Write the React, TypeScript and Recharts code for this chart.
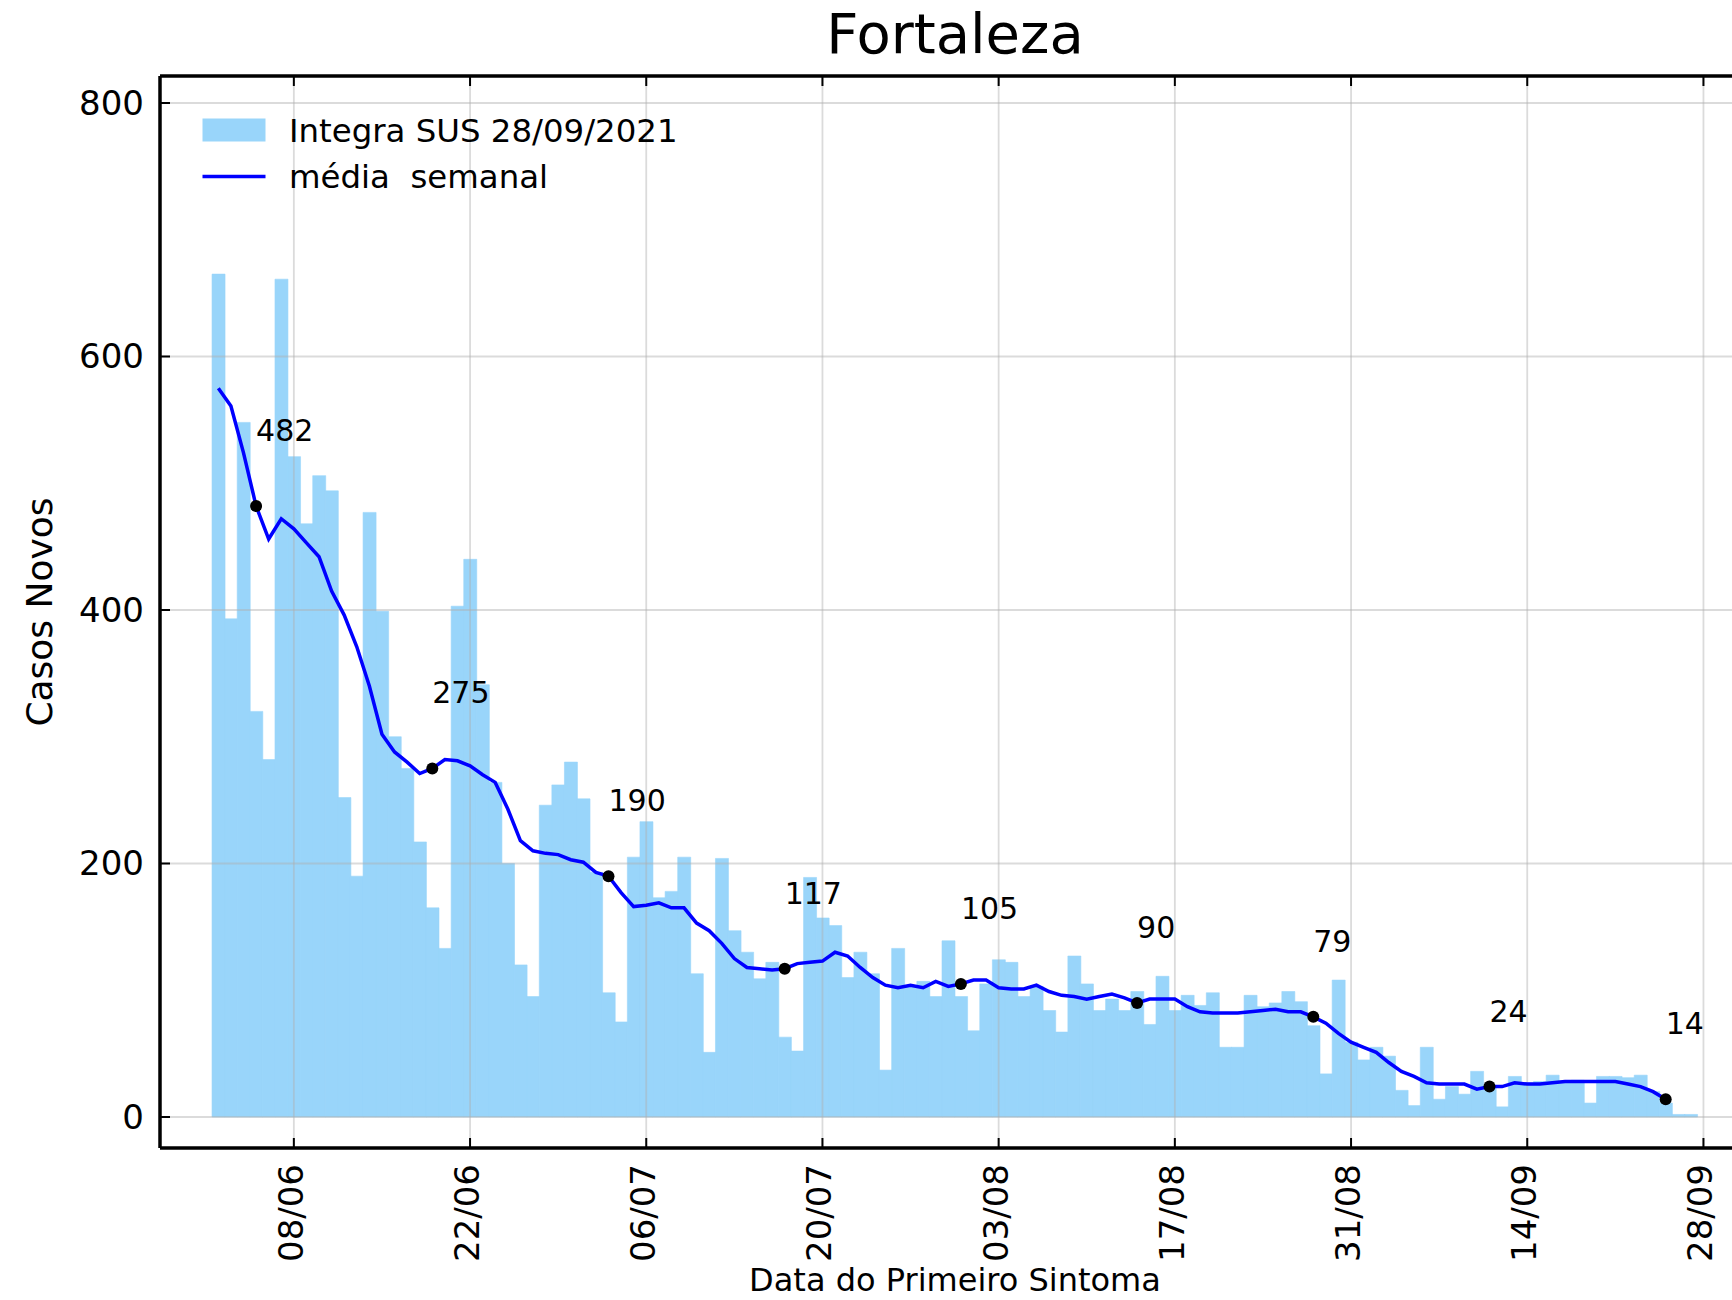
import React from 'react';
import { ComposedChart, Bar, Line, XAxis, YAxis, ReferenceLine, Legend, Label } from 'recharts';

// Primeiro dia com barra: 02/06/2021
const inicio = { ano: 2021, mes: 6, dia: 2 };
const diasAntes = 4;   // categorias vazias antes do primeiro dia
const diasDepois = 4;  // categorias vazias depois do último dia

const casosNovos = [
  665, 393, 548, 320, 282, 661, 521, 468, 506, 494,
  252, 190, 477, 399, 300, 275, 217, 165, 133, 403,
  440, 341, 264, 200, 120, 95, 246, 262, 280, 251,
  193, 98, 75, 205, 233, 173, 178, 205, 113, 51,
  204, 147, 130, 109, 122, 63, 52, 189, 157, 151,
  110, 130, 113, 37, 133, 103, 107, 95, 139, 95,
  68, 105, 124, 122, 95, 103, 84, 67, 127, 105,
  84, 93, 84, 99, 73, 111, 84, 96, 88, 98,
  55, 55, 96, 87, 90, 99, 91, 72, 34, 108,
  59, 45, 55, 48, 21, 9, 55, 14, 24, 18,
  36, 24, 8, 32, 27, 28, 33, 28, 29, 11,
  32, 32, 31, 33, 20, 11, 2, 2,
];

const mediaSemanal = [
  575, 561, 524, 482, 456, 472, 464, 453, 442, 415,
  396, 371, 340, 302, 288, 280, 271, 275, 282, 281,
  277, 270, 264, 243, 218, 210, 208, 207, 203, 201,
  193, 190, 177, 166, 167, 169, 165, 165, 153, 147,
  137, 125, 118, 117, 116, 117, 121, 122, 123, 130,
  127, 118, 110, 104, 102, 104, 102, 107, 103, 105,
  108, 108, 102, 101, 101, 104, 99, 96, 95, 93,
  95, 97, 94, 90, 93, 93, 93, 87, 83, 82,
  82, 82, 83, 84, 85, 83, 83, 79, 74, 66,
  59, 55, 51, 43, 36, 32, 27, 26, 26, 26,
  22, 24, 24, 27, 26, 26, 27, 28, 28, 28,
  28, 28, 26, 24, 20, 14,
];

const datasMarcadas = ['05/06', '19/06', '03/07', '17/07', '31/07', '14/08', '28/08', '11/09', '25/09'];
const ticksX = ['08/06', '22/06', '06/07', '20/07', '03/08', '17/08', '31/08', '14/09', '28/09'];
const ticksY = [0, 200, 400, 600, 800];
const dominioY = [-24.46, 821.3];

const titulo = 'Fortaleza';
const legendaBarras = 'Integra SUS 28/09/2021';
const legendaLinha = 'média  semanal';
const rotuloX = 'Data do Primeiro Sintoma';
const rotuloY = 'Casos Novos';

const fmt = (k: number) => {
  const d = new Date(Date.UTC(inicio.ano, inicio.mes - 1, inicio.dia + k));
  const dd = String(d.getUTCDate()).padStart(2, '0');
  const mm = String(d.getUTCMonth() + 1).padStart(2, '0');
  return `${dd}/${mm}`;
};

const dados: any[] = [];
for (let k = -diasAntes; k < casosNovos.length + diasDepois; k++) {
  dados.push({
    date: fmt(k),
    casos: k >= 0 && k < casosNovos.length ? casosNovos[k] : null,
    media: k >= 0 && k < mediaSemanal.length ? mediaSemanal[k] : null,
  });
}

const FONT = 'DejaVu Sans';
const BAR_COLOR = '#99d5fa';
const GRID = '#b0b0b0';

const YTick = (p: any) => {
  const { x, y, payload } = p;
  return (
    <g>
      <line x1={x} x2={x + 10} y1={y} y2={y} stroke="#000" strokeWidth={2} />
      <text x={x - 16} y={y} textAnchor="end" dominantBaseline="central" fontSize={34} fontFamily={FONT} fill="#000">
        {payload.value}
      </text>
    </g>
  );
};

const XTick = (p: any) => {
  const { x, y, payload } = p;
  const bx = x + 9;
  const by = y + 16;
  return (
    <g>
      <line x1={x} x2={x} y1={y} y2={y - 10} stroke="#000" strokeWidth={2} />
      <text x={bx} y={by} transform={`rotate(-90 ${bx} ${by})`} textAnchor="end" fontSize={34} fontFamily={FONT} fill="#000">
        {payload.value}
      </text>
    </g>
  );
};

const TopTick = (p: any) => {
  const { x, y } = p;
  return <line x1={x} x2={x} y1={y} y2={y + 10} stroke="#000" strokeWidth={2} />;
};

const renderDot = (props: any) => {
  const { cx, cy, payload, index } = props;
  if (!payload || cx == null || cy == null || !datasMarcadas.includes(payload.date)) {
    return <g key={`d${index}`} />;
  }
  return (
    <g key={`d${index}`}>
      <circle cx={cx} cy={cy} r={6} fill="#000" />
      <text x={cx} y={cy - 65} fontSize={30} fontFamily={FONT} fill="#000">
        {Math.round(payload.media)}
      </text>
    </g>
  );
};

const LegendBox = () => (
  <svg width={800} height={220} style={{ overflow: 'visible' }}>
    <rect x={202.5} y={118.5} width={63} height={23} fill={BAR_COLOR} />
    <text x={289} y={141.7} fontSize={32.4} fontFamily={FONT} fill="#000">{legendaBarras}</text>
    <line x1={202.5} x2={265.5} y1={176.5} y2={176.5} stroke="#0000ff" strokeWidth={3.5} />
    <text x={289} y={187.6} fontSize={32.4} fontFamily={FONT} fill="#000" style={{ whiteSpace: 'pre' }}>{legendaLinha}</text>
  </svg>
);

export default function App() {
  return (
    <div style={{ position: 'absolute', left: 0, top: 0, width: 1732, height: 1300, overflow: 'hidden', background: '#fff' }}>
      <ComposedChart
        width={1760}
        height={1300}
        data={dados}
        margin={{ top: 75, right: 10, bottom: 0, left: 0 }}
        barCategoryGap={0}
        barGap={0}
        style={{ fontFamily: FONT }}
      >
        <XAxis
          dataKey="date"
          type="category"
          ticks={ticksX}
          interval={0}
          height={152}
          padding={{ left: 1.7, right: 2.5 }}
          tickSize={0}
          tickMargin={0}
          tickLine={false}
          tick={<XTick />}
          axisLine={{ stroke: '#000', strokeWidth: 3.5 }}
        >
          <Label
            content={(p: any) => {
              const vb = p.viewBox || { x: 160, y: 1148, width: 1590 };
              return (
                <text x={vb.x + vb.width / 2} y={vb.y + 143} textAnchor="middle" fontSize={32} fontFamily={FONT} fill="#000">
                  {rotuloX}
                </text>
              );
            }}
          />
        </XAxis>
        <XAxis
          xAxisId="top"
          orientation="top"
          dataKey="date"
          type="category"
          ticks={ticksX}
          interval={0}
          height={1}
          padding={{ left: 1.7, right: 2.5 }}
          tickSize={0}
          tickMargin={0}
          tickLine={false}
          tick={<TopTick />}
          axisLine={false}
        />
        <YAxis
          type="number"
          domain={dominioY}
          allowDataOverflow
          ticks={ticksY}
          width={160}
          tickSize={0}
          tickMargin={0}
          tickLine={false}
          tick={<YTick />}
          axisLine={{ stroke: '#000', strokeWidth: 3.5 }}
        >
          <Label
            content={(p: any) => {
              const vb = p.viewBox || { x: 0, y: 76, width: 160, height: 1072 };
              const cy = vb.y + vb.height / 2;
              return (
                <text x={52} y={cy} transform={`rotate(-90 52 ${cy})`} textAnchor="middle" fontSize={36} fontFamily={FONT} fill="#000">
                  {rotuloY}
                </text>
              );
            }}
          />
        </YAxis>
        <Legend
          layout="vertical"
          align="center"
          verticalAlign="middle"
          wrapperStyle={{ left: 0, top: 0, width: 800, height: 220 }}
          content={() => <LegendBox />}
        />
        <Bar dataKey="casos" fill={BAR_COLOR} stroke={BAR_COLOR} strokeWidth={0.6} isAnimationActive={false} />
        {ticksX.map((t) => (
          <ReferenceLine key={`gx${t}`} x={t} stroke={GRID} strokeOpacity={0.45} strokeWidth={1.8} />
        ))}
        {ticksY.map((t) => (
          <ReferenceLine key={`gy${t}`} y={t} stroke={GRID} strokeOpacity={0.45} strokeWidth={1.8} />
        ))}
        <ReferenceLine y={dominioY[1]} stroke="#000" strokeWidth={3.5} />
        <Line
          dataKey="media"
          type="linear"
          stroke="#0000ff"
          strokeWidth={3.5}
          dot={renderDot}
          activeDot={false}
          connectNulls={false}
          isAnimationActive={false}
        />
      </ComposedChart>
      <svg width={1732} height={80} style={{ position: 'absolute', left: 0, top: 0, pointerEvents: 'none' }}>
        <text x={955} y={53} textAnchor="middle" fontSize={56} fontFamily={FONT} fill="#000">{titulo}</text>
      </svg>
    </div>
  );
}
